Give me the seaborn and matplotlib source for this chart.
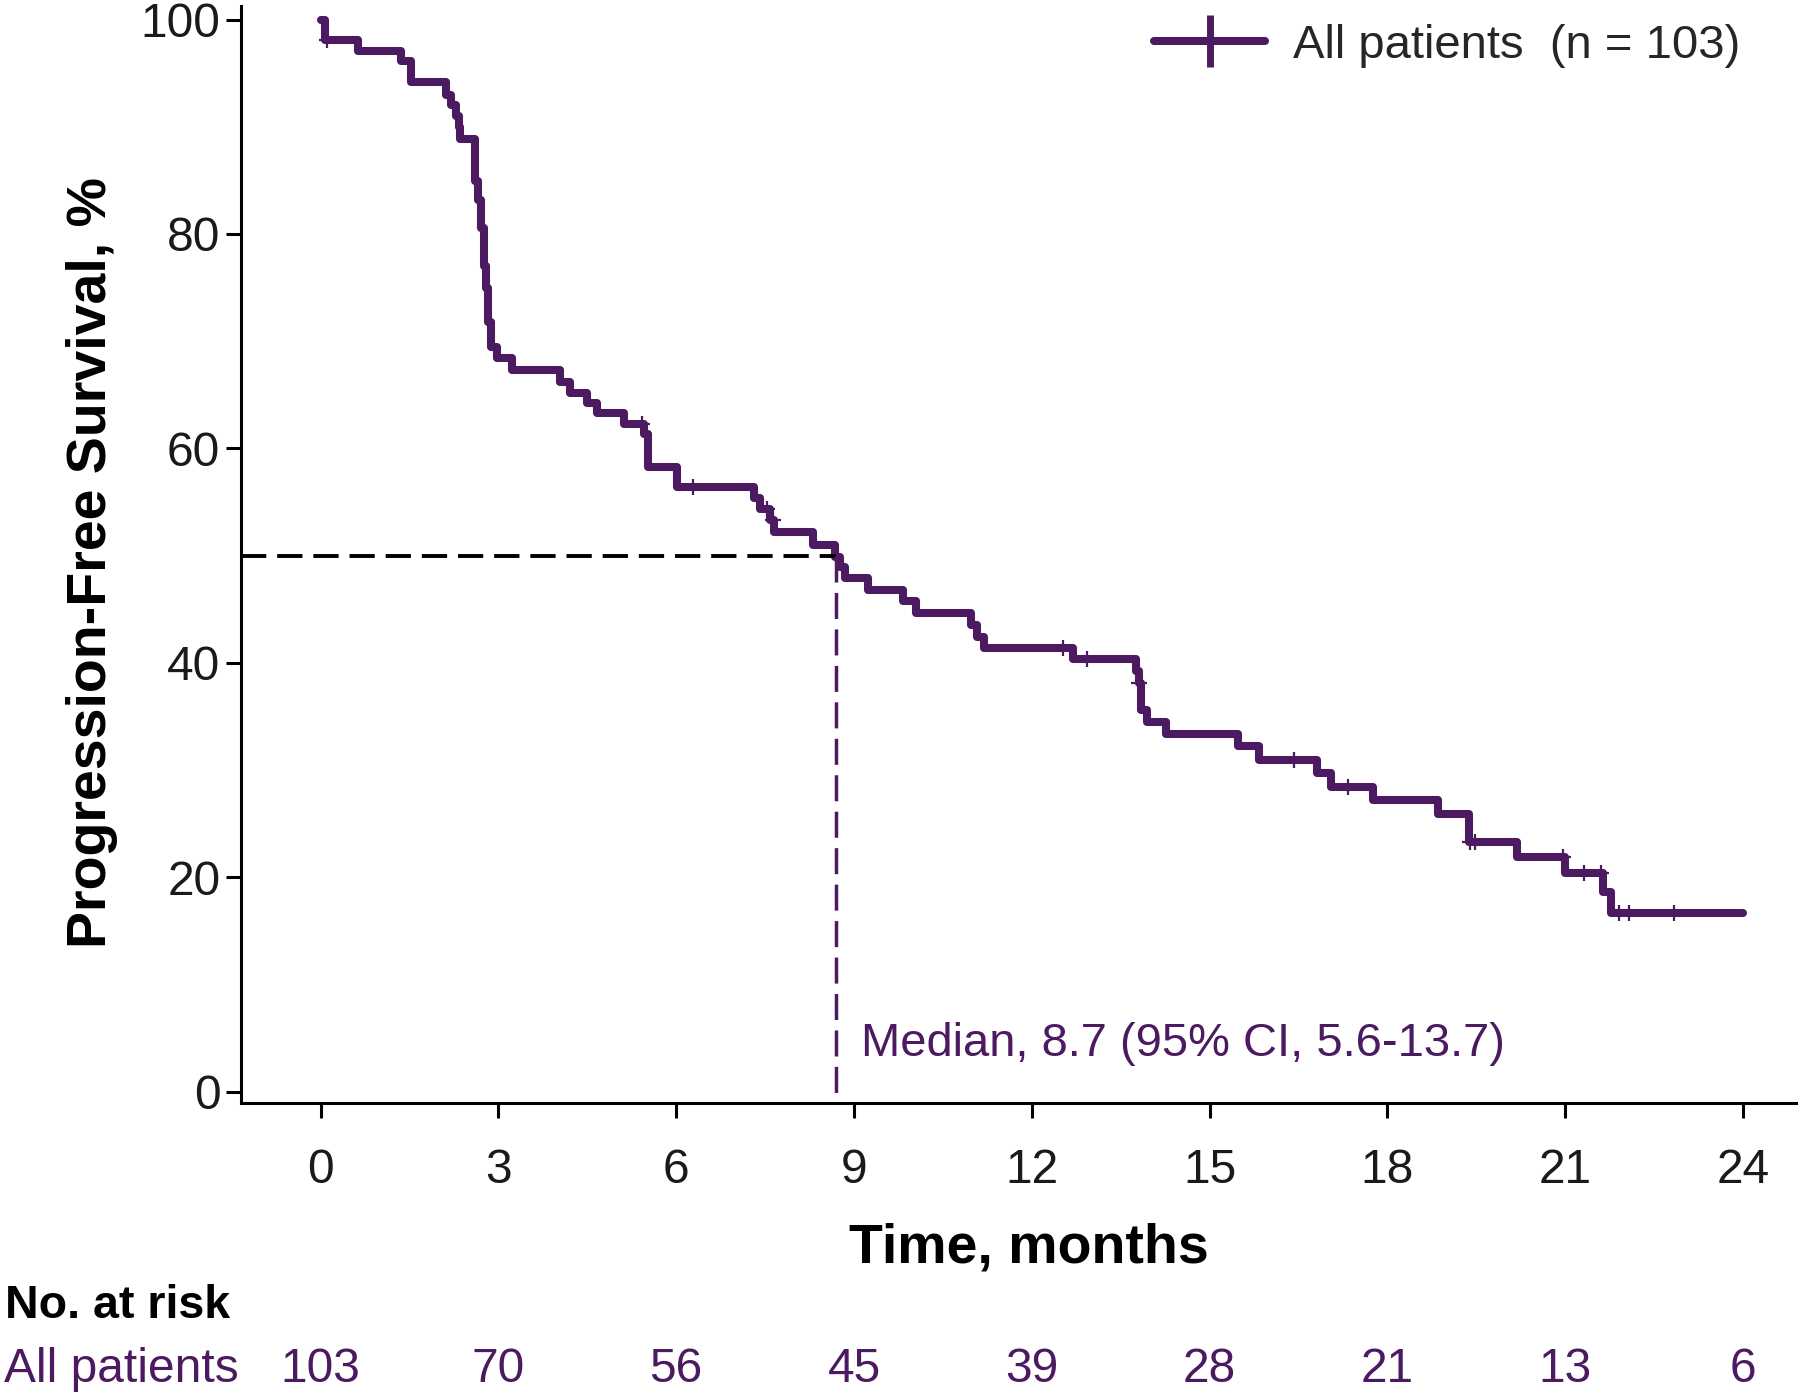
import numpy as np
import pandas as pd
import matplotlib
matplotlib.use("Agg")
import matplotlib.pyplot as plt
import seaborn as sns
from matplotlib.lines import Line2D

# ---------------- data ----------------
event_times = [0.08, 0.63, 1.35, 1.52, 2.11, 2.20, 2.28, 2.33, 2.36,
               2.60, 2.65, 2.70, 2.75, 2.79, 2.83, 2.88, 2.97, 3.23,
               4.04, 4.20, 4.50, 4.67, 5.12, 5.45, 5.52, 6.01,
               7.32, 7.42, 7.58, 7.65, 8.30, 8.68, 8.76, 8.84, 9.24,
               9.83, 10.05, 10.97, 11.07, 11.19, 12.70, 13.76, 13.80,
               13.85, 13.95, 14.27, 15.48, 15.84, 16.81, 17.05, 17.75,
               18.85, 19.38, 20.18, 21.00, 21.63, 21.78]
event_surv = [98.1, 97.1, 96.1, 94.2, 93.0, 92.0, 91.0, 90.0, 88.9,
              84.9, 83.2, 80.6, 77.0, 75.0, 71.8, 69.5, 68.4, 67.3,
              66.2, 65.2, 64.2, 63.3, 62.3, 61.3, 58.3, 56.4,
              55.4, 54.3, 53.3, 52.2, 51.0, 49.9, 48.9, 47.9, 46.8,
              45.8, 44.6, 43.5, 42.4, 41.4, 40.4, 39.2, 38.1,
              35.6, 34.5, 33.4, 32.2, 30.9, 29.7, 28.4, 27.2,
              25.9, 23.3, 21.9, 20.4, 18.6, 16.7]
censor_times = [0.10, 5.42, 6.29, 7.53, 7.63, 12.53, 12.93, 13.80, 16.43,
                17.33, 19.40, 19.48, 20.97, 21.32, 21.60, 21.90, 22.07, 22.84]
end_time = 24.0

risk_times = [0, 3, 6, 9, 12, 15, 18, 21, 24]
risk_counts = [103, 70, 56, 45, 39, 28, 21, 13, 6]
x_ticks = [0, 3, 6, 9, 12, 15, 18, 21, 24]
y_ticks = [0, 20, 40, 60, 80, 100]
median_time = 8.7
median_label = "Median, 8.7 (95% CI, 5.6-13.7)"
legend_label = "All patients  (n = 103)"
group_label = "All patients"

# ---------------- style ----------------
PURPLE = "#4b1a60"
TXT = "#1a1a1a"
FS = 34.5

sns.set_theme(style="ticks")
plt.rcParams["font.family"] = ["Liberation Sans", "DejaVu Sans"]

fig = plt.figure(figsize=(18, 13.95), dpi=100)
ax = fig.add_axes([0.134, 0.209, 0.864, 0.787])

times = [0.0] + event_times + [end_time]
surv = [100.0] + event_surv + [event_surv[-1]]
df = pd.DataFrame({"Time": times, "PFS": surv})

sns.lineplot(data=df, x="Time", y="PFS", drawstyle="steps-post",
             estimator=None, sort=False, color=PURPLE, linewidth=5.8,
             ax=ax, legend=False)

# censor marks on the curve
t_arr = np.array(times)
s_arr = np.array(surv)
c_idx = np.searchsorted(t_arr, np.array(censor_times), side="right") - 1
cdf = pd.DataFrame({"Time": censor_times, "PFS": s_arr[c_idx]})
ax.plot(cdf["Time"], cdf["PFS"], linestyle="none", marker="+",
        markersize=12, markeredgewidth=1.6, color=PURPLE, zorder=4)

xmin, xmax = -1.34, 24.9
ymin, ymax = -1.1, 101.3
ax.set_xlim(xmin, xmax)
ax.set_ylim(ymin, ymax)

# median reference lines
ax.plot([xmin, median_time], [50, 50], color="black", lw=2.8,
        linestyle=(0, (6.5, 2.8)), zorder=2)
ax.plot([median_time, median_time], [50, ymin], color=PURPLE, lw=2.5,
        linestyle=(0, (7.5, 3.0)), zorder=2)
ax.text(9.12, 4.4, median_label, color=PURPLE, fontsize=33.9,
        ha="left", va="center")

ax.set_xticks(x_ticks)
ax.set_yticks(y_ticks)
ax.tick_params(axis="both", direction="out", length=11, width=2.2,
               colors="black", labelcolor=TXT, labelsize=FS)
ax.tick_params(axis="x", pad=21)
ax.tick_params(axis="y", pad=4)
for side in ["top", "right"]:
    ax.spines[side].set_visible(False)
for side in ["left", "bottom"]:
    ax.spines[side].set_linewidth(2.2)
    ax.spines[side].set_color("black")

ax.set_xlabel("Time, months", fontsize=40, fontweight="bold", color="black")
ax.set_ylabel("Progression-Free Survival, %", fontsize=40, fontweight="bold",
              color="black")
ax.xaxis.set_label_coords(0.5064, -0.1085)
ax.yaxis.set_label_coords(-0.079, 0.4927)

handle = Line2D([], [], color=PURPLE, lw=5.8, marker="+", markersize=38,
                markeredgewidth=5)
ax.legend([handle], [legend_label], loc="center left",
          bbox_to_anchor=(0.587, 0.9635), frameon=False, fontsize=34,
          handlelength=2.35, handletextpad=0.6, borderpad=0,
          borderaxespad=0, numpoints=1)

# number at risk table
tr = ax.get_xaxis_transform()
fig.text(0.003, 1 - 1306 / 1395, "No. at risk", fontsize=33.5, fontweight="bold",
         color="black", ha="left", va="center")
fig.text(0.002, 1 - 1369 / 1395, group_label, fontsize=FS, color=PURPLE,
         ha="left", va="center")
for t, n in zip(risk_times, risk_counts):
    ax.text(t, (1103 - 1369) / 1097, str(n), transform=tr, fontsize=FS,
            color=PURPLE, ha="center", va="center", clip_on=False)

fig.savefig("out.png", dpi=100)
